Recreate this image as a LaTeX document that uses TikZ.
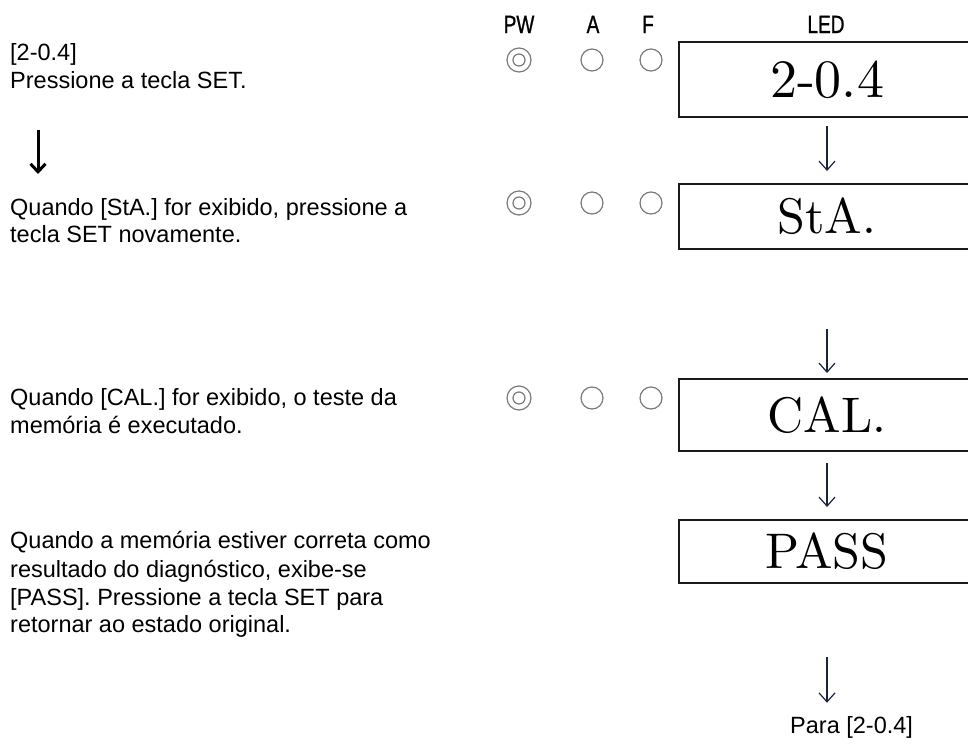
\documentclass[tikz,border=0pt]{standalone}
\usepackage{fontspec}
\usepackage{graphicx}
\usetikzlibrary{arrows.meta,positioning}
\newfontfamily\notefont{Liberation Sans}
\newfontfamily\headfont{Liberation Sans}[FakeBold=1.2]
\newfontfamily\ledfont{lmroman10-regular}[Extension=.otf]
\definecolor{lampgray}{HTML}{7A7A7A}
\definecolor{arrowink}{HTML}{1C2438}
\definecolor{boxink}{HTML}{1A1A1A}
\tikzset{
  note/.style={anchor=base west,inner sep=0pt,font=\notefont\fontsize{23.5}{28}\selectfont},
  headlbl/.style={anchor=base,inner sep=0pt,font=\headfont\fontsize{25}{30}\selectfont},
  lamp/.style={circle,draw=lampgray,line width=1.2pt,minimum size=22pt,inner sep=0pt},
  pwlamp/.style={lamp,minimum size=24pt,
    path picture={\draw[lampgray,line width=1.2pt] (path picture bounding box.center) circle (6pt);}},
  ledbox/.style={draw=boxink,line width=2pt,minimum width=296pt,inner sep=0pt,
    font=\ledfont\fontsize{50}{60}\selectfont},
  flow/.style={draw=arrowink,line width=1.2pt,-{Straight Barb[length=9pt,width=16pt]}},
}
\begin{document}
\begin{tikzpicture}[x=1pt,y=-1pt]

      \clip (0,0) rectangle (968,744);

      % left column: instructions
      \node[note] (t1a) at (10,60) {[2-0.4]};
      \node[note] (t1b) at (10,88) {Pressione a tecla SET.};

      \coordinate (ltop) at (38,130);
      \coordinate (lend) at (38,174);
      \draw[line width=3pt,-{Straight Barb[length=8pt,width=15pt]}] (ltop) -- (lend);

      \node[note] (t2a) at (10,215) {Quando [StA.] for exibido, pressione a};
      \node[note] (t2b) at (10,242) {tecla SET novamente.};

      \node[note] (t3a) at (10,405) {Quando [CAL.] for exibido, o teste da};
      \node[note] (t3b) at (10,433) {memória é executado.};

      \node[note] (t4a) at (10,548) {Quando a memória estiver correta como};
      \node[note] (t4b) at (10,577) {resultado do diagnóstico, exibe-se};
      \node[note] (t4c) at (10,605) {[PASS]. Pressione a tecla SET para};
      \node[note] (t4d) at (10,632) {retornar ao estado original.};

      % header
      \node[headlbl] (hpw) at (519,33) {\scalebox{0.76}[1]{PW}};
      \node[headlbl] (ha) at (593,33) {\scalebox{0.76}[1]{A}};
      \node[headlbl] (hf) at (648,33) {\scalebox{0.76}[1]{F}};
      \node[headlbl] (hled) at (826,33) {\scalebox{0.76}[1]{LED}};

      % lamps
      \node[pwlamp] (pw1) at (519,60) {};
      \node[lamp] (a1) at (592,60) {};
      \node[lamp] (f1) at (651,60) {};

      \node[pwlamp] (pw2) at (519,203) {};
      \node[lamp] (a2) at (592,203) {};
      \node[lamp] (f2) at (651,203) {};

      \node[pwlamp] (pw3) at (519,398) {};
      \node[lamp] (a3) at (592,398) {};
      \node[lamp] (f3) at (651,398) {};

      % LED display
      \node[ledbox,minimum height=75pt,font=\ledfont\fontsize{54}{60}\selectfont] (led1) at (827,79.5) {2-0.4};
      \node[ledbox,minimum height=65pt] (led2) at (827,216.5) {StA.};
      \node[ledbox,minimum height=72pt] (led3) at (827,415) {CAL.};
      \node[ledbox,minimum height=63pt] (led4) at (827,551.5) {PASS};

      \node[note] (back) at (790,733) {Para [2-0.4]};

      \draw[flow,shorten <=8pt,shorten >=12pt] (led1.south) -- (led2.north);
      \draw[flow,shorten <=79pt,shorten >=5pt] (led2.south) -- (led3.north);
      \draw[flow,shorten <=11pt,shorten >=12pt] (led3.south) -- (led4.north);
      \draw[flow,shorten <=73pt,shorten >=13pt] (led4.south) -- (led4.south |- back.north);

\end{tikzpicture}
\end{document}
